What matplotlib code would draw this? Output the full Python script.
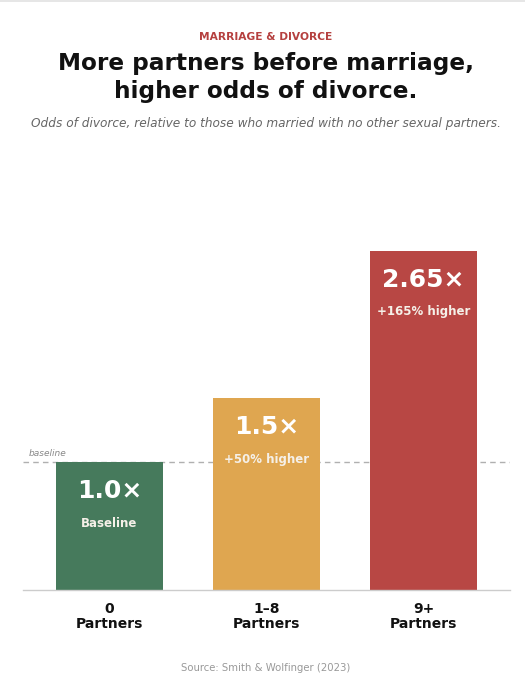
import matplotlib
matplotlib.use("Agg")
import matplotlib.pyplot as plt
import numpy as np

categories = ["0\nPartners", "1–8\nPartners", "9+\nPartners"]
odds = [1.0, 1.5, 2.65]
value_labels = ["1.0×", "1.5×", "2.65×"]
sub_labels = ["Baseline", "+50% higher", "+165% higher"]
colors = ["#467a5c", "#dfa650", "#b84744"]

plt.rcParams['font.family'] = ['DejaVu Sans']
fig = plt.figure(figsize=(5.25, 6.8), dpi=100)
fig.patch.set_facecolor("white")

H = 680.0
W = 525.0
ax = fig.add_axes([23/W, (H-590)/H, (510-23)/W, 390/H])
x = np.arange(len(odds))
ax.bar(x, odds, width=0.68, color=colors, zorder=2)
ax.set_xlim(-0.551, 2.551)
ax.set_ylim(0, 390/128)
ax.axhline(1.0, color="#b0b0b0", linestyle=(0, (4, 3)), linewidth=1.0, zorder=1)
ax.text(-0.515, 1.03, "baseline", fontsize=6.5, style="italic", color="#888888",
        ha="left", va="bottom")

for xi, v, vl, sl in zip(x, odds, value_labels, sub_labels):
    ax.annotate(vl, (xi, v), xytext=(0, -21), textcoords="offset points",
                ha="center", va="center", fontsize=18, fontweight="bold", color="white", zorder=3)
    ax.annotate(sl, (xi, v), xytext=(0, -44), textcoords="offset points",
                ha="center", va="center", fontsize=8.5, fontweight="bold", color="#f5f0e8", zorder=3)

for s in ["top", "right", "left"]:
    ax.spines[s].set_visible(False)
ax.spines["bottom"].set_color("#cccccc")
ax.spines["bottom"].set_linewidth(1.0)
ax.set_yticks([])
ax.set_xticks(x)
ax.set_xticklabels(categories, fontsize=10, fontweight="bold", color="#111111", linespacing=1.12)
ax.tick_params(axis="x", length=0, pad=8.5)

fig.add_artist(plt.Line2D([0, 1], [1 - 0.5/H, 1 - 0.5/H], color="#e2e2e2", linewidth=1.2,
                          transform=fig.transFigure))

cx = 266/W
fig.text(cx, 1 - 37/H, "MARRIAGE & DIVORCE", ha="center", va="center",
         fontsize=7.7, fontweight="bold", color="#b5403f")
fig.text(cx, 1 - 77.5/H, "More partners before marriage,\nhigher odds of divorce.",
         ha="center", va="center", fontsize=16.7, fontweight="bold", color="#111111", linespacing=1.24)
fig.text(cx, 1 - 123/H, "Odds of divorce, relative to those who married with no other sexual partners.",
         ha="center", va="center", fontsize=8.7, style="italic", color="#666666")
fig.text(cx, 1 - 668/H, "Source: Smith & Wolfinger (2023)", ha="center", va="center",
         fontsize=7.3, color="#999999")

fig.savefig("out.png", dpi=100, facecolor="white")
